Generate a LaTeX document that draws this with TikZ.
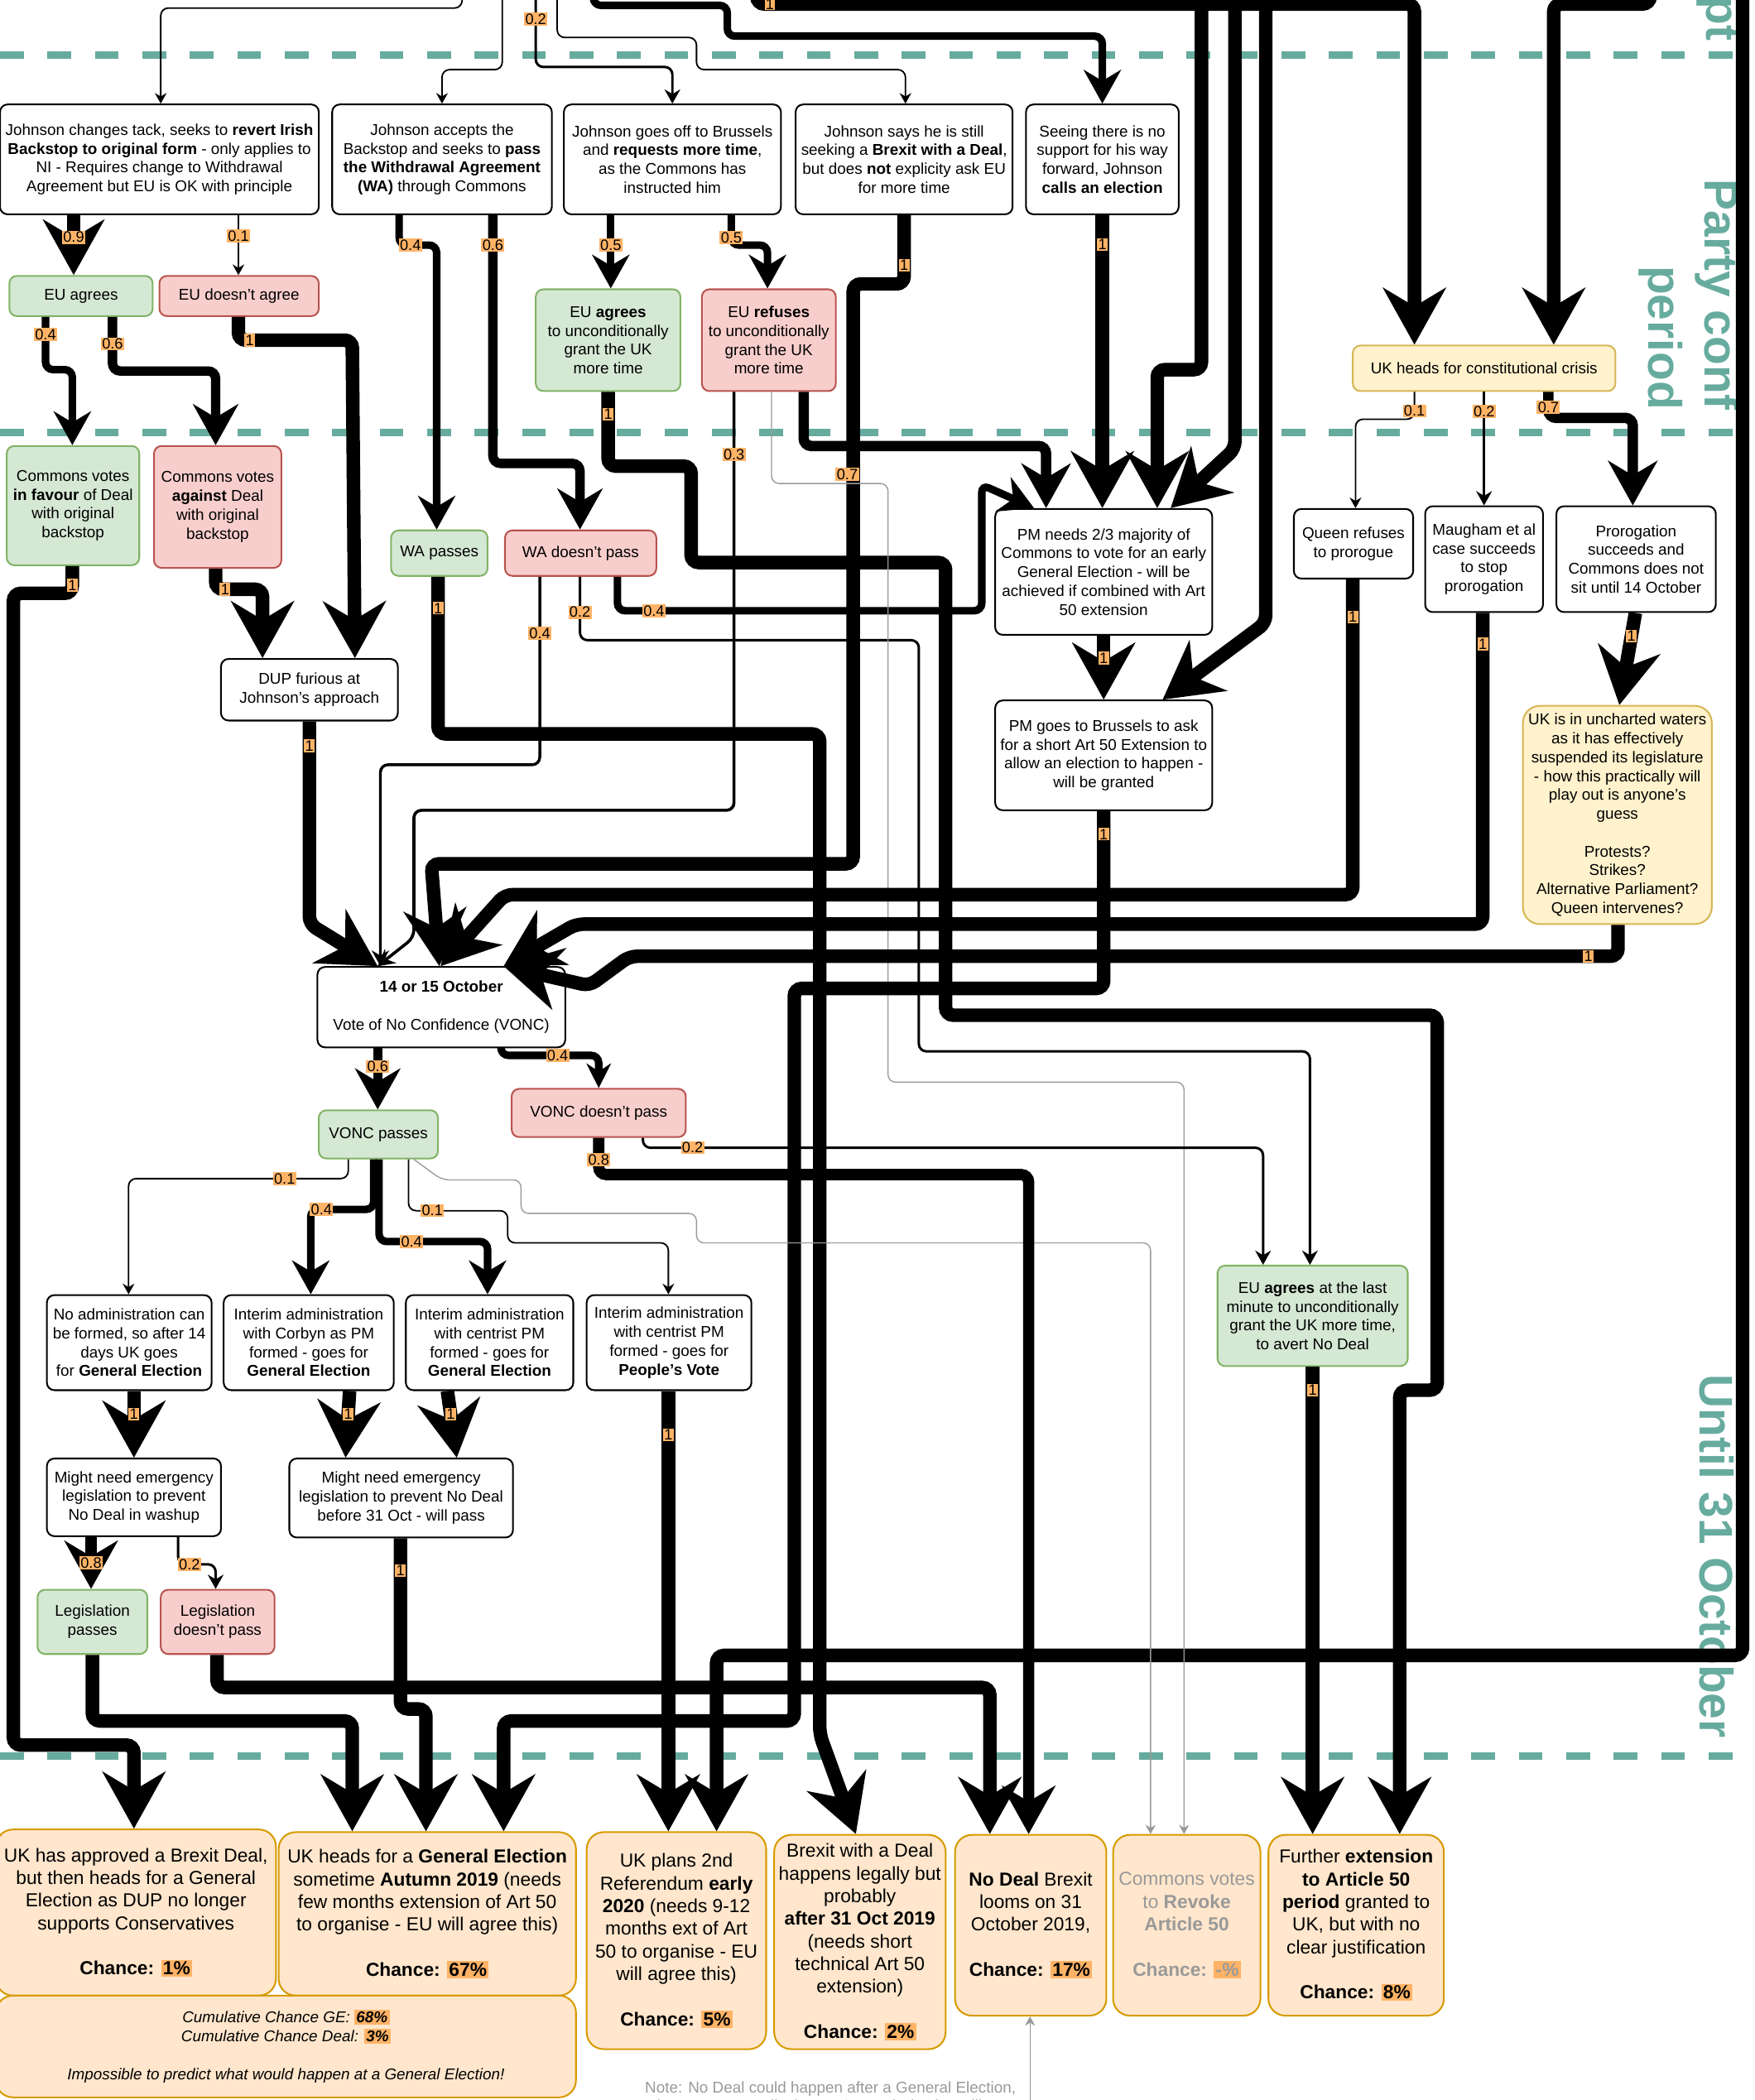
\documentclass[tikz,border=0pt]{standalone}
\usepackage{fontspec}
\setmainfont{Liberation Sans}
\setsansfont{Liberation Sans}
\usetikzlibrary{arrows.meta}

\definecolor{phaseteal}{HTML}{67AB9F}
\definecolor{yesfill}{HTML}{D5E8D4}
\definecolor{yesline}{HTML}{82B366}
\definecolor{nofill}{HTML}{F8CECC}
\definecolor{noline}{HTML}{B85450}
\definecolor{warnfill}{HTML}{FFF2CC}
\definecolor{warnline}{HTML}{D6B656}
\definecolor{endfill}{HTML}{FFE6CC}
\definecolor{endline}{HTML}{D79B00}
\definecolor{lblorange}{HTML}{FFB366}
\definecolor{notegrey}{HTML}{999999}

\newcommand{\nodefont}{\fontsize{8.3}{10}\selectfont}
\newcommand{\outfont}{\fontsize{10}{12}\selectfont}
\newcommand{\pct}[1]{{\setlength{\fboxsep}{1pt}\colorbox{lblorange}{#1}}}

\tikzset{
  box/.style={draw, rounded corners=4pt, fill=white, align=center, inner sep=1pt, line width=0.9pt, font=\nodefont},
  yesbox/.style={box, draw=yesline, fill=yesfill},
  nobox/.style={box, draw=noline, fill=nofill},
  warnbox/.style={box, draw=warnline, fill=warnfill},
  endbox/.style={box, rounded corners=9pt, draw=endline, fill=endfill, font=\outfont},
  wh/.style 2 args={minimum width=#1*0.025cm, minimum height=#2*0.025cm},
  flow/.style={-{Stealth[scale length=0.85, scale width=1.25]}, rounded corners=4pt},
  p1/.style={flow, line width=7.2pt},
  p09/.style={flow, line width=7pt},
  p08/.style={flow, line width=6pt},
  p07/.style={flow, line width=5.5pt},
  p06/.style={flow, line width=5pt},
  p05/.style={flow, line width=4pt},
  p04/.style={flow, line width=4pt},
  p03/.style={flow, line width=1.6pt},
  p02/.style={flow, line width=1.3pt},
  p01/.style={flow, line width=0.8pt},
  greyflow/.style={flow, line width=0.6pt, draw=notegrey},
  lbl/.style={fill=lblorange, sharp corners, inner sep=0.6pt, font=\fontsize{8}{9}\selectfont},
  phaseline/.style={draw=phaseteal, line width=3.9pt, dash pattern=on 12.6pt off 12.6pt},
  phasetext/.style={text=phaseteal, font=\fontsize{25}{30}\selectfont\bfseries, rotate=-90, align=right}
}

\begin{document}
\begin{tikzpicture}[x=0.025cm, y=-0.025cm]

\useasboundingbox (0,0) rectangle (1310,1568);

\draw[phaseline] (0,41) -- (1310,41);
\draw[phaseline] (0,323) -- (1310,323);
\draw[phaseline] (0,1311) -- (1310,1311);

\node[phasetext] (conf) at (1261,220) {Party conf\\period};
\node[phasetext] (oct) at (1282,1162) {Until 31 October};
\node[phasetext] (sept) at (1282,14) {pt};

\node[box, wh={238}{82}] (tack) at (119,119) {Johnson changes tack, seeks to \textbf{revert Irish}\\ \textbf{Backstop to original form} - only applies to\\ NI - Requires change to Withdrawal\\ Agreement but EU is OK with principle};
\node[box, wh={164}{82}] (accept) at (330,119) {Johnson accepts the\\ Backstop and seeks to \textbf{pass}\\ \textbf{the Withdrawal Agreement}\\ \textbf{(WA)} through Commons};
\node[box, wh={162}{82}] (brussels) at (502,119) {Johnson goes off to Brussels\\ and \textbf{requests more time},\\ as the Commons has\\ instructed him};
\node[box, wh={162}{82}] (still) at (675,119) {Johnson says he is still\\ seeking a \textbf{Brexit with a Deal},\\ but does \textbf{not} explicity ask EU\\ for more time};
\node[box, wh={114}{82}] (calls) at (823,119) {Seeing there is no\\ support for his way\\ forward, Johnson\\ \textbf{calls an election}};

\node[yesbox, wh={107}{30}] (euyes) at (60.5,221) {EU agrees};
\node[nobox, wh={119}{30}] (euno) at (178.5,221) {EU doesn't agree};
\node[yesbox, wh={108}{76}] (euagr) at (454,254) {EU \textbf{agrees}\\ to unconditionally\\ grant the UK\\ more time};
\node[nobox, wh={100}{76}] (euref) at (574,254) {EU \textbf{refuses}\\ to unconditionally\\ grant the UK\\ more time};
\node[warnbox, wh={196}{34}] (crisis) at (1108,275) {UK heads for constitutional crisis};

\node[yesbox, wh={99}{89}] (favour) at (54.5,377.5) {Commons votes\\ \textbf{in favour} of Deal\\ with original\\ backstop};
\node[nobox, wh={95}{91}] (against) at (162.5,378.5) {Commons votes\\ \textbf{against} Deal\\ with original\\ backstop};
\node[yesbox, wh={72}{34}] (wapass) at (328,413) {WA passes};
\node[nobox, wh={113}{34}] (wafail) at (433.5,413) {WA doesn't pass};
\node[box, wh={162}{94}] (twothirds) at (824,427) {PM needs 2/3 majority of\\ Commons to vote for an early\\ General Election - will be\\ achieved if combined with Art\\ 50 extension};
\node[box, wh={89}{52}] (queen) at (1010.5,406) {Queen refuses\\ to prorogue};
\node[box, wh={88}{79}] (maugham) at (1108,417.5) {Maugham et al\\ case succeeds\\ to stop\\ prorogation};
\node[box, wh={119}{79}] (prorog) at (1221.5,417.5) {Prorogation\\ succeeds and\\ Commons does not\\ sit until 14 October};

\node[box, wh={132}{46}] (dup) at (231,515) {DUP furious at\\ Johnson's approach};
\node[box, wh={162}{82}] (shortext) at (824,564) {PM goes to Brussels to ask\\ for a short Art 50 Extension to\\ allow an election to happen -\\ will be granted};
\node[warnbox, rounded corners=9pt, wh={141}{163}] (uncharted) at (1207.5,608.5) {UK is in uncharted waters\\ as it has effectively\\ suspended its legislature\\ - how this practically will\\ play out is anyone's\\ guess\\[10pt] Protests?\\ Strikes?\\ Alternative Parliament?\\ Queen intervenes?};

\node[box, wh={185}{60}] (vonc) at (329.5,752) {\textbf{14 or 15 October}\\[10pt] Vote of No Confidence (VONC)};
\node[yesbox, wh={89}{36}] (voncyes) at (282.5,847) {VONC passes};
\node[nobox, wh={130}{36}] (voncno) at (447,831) {VONC doesn't pass};
\node[yesbox, wh={142}{75}] (eulast) at (980,982.5) {EU \textbf{agrees} at the last\\ minute to unconditionally\\ grant the UK more time,\\ to avert No Deal};

\node[box, wh={123}{71}] (noadmin) at (96.5,1002.5) {No administration can\\ be formed, so after 14\\ days UK goes\\ for \textbf{General Election}};
\node[box, wh={127}{71}] (corbyn) at (230.5,1002.5) {Interim administration\\ with Corbyn as PM\\ formed - goes for\\ \textbf{General Election}};
\node[box, wh={125}{71}] (centge) at (365.5,1002.5) {Interim administration\\ with centrist PM\\ formed - goes for\\ \textbf{General Election}};
\node[box, wh={123}{71}] (centpv) at (499.5,1002.5) {Interim administration\\ with centrist PM\\ formed - goes for\\ \textbf{People's Vote}};
\node[box, wh={130}{58}] (washup) at (100,1118) {Might need emergency\\ legislation to prevent\\ No Deal in washup};
\node[box, wh={167}{59}] (before31) at (299.5,1118.5) {Might need emergency\\ legislation to prevent No Deal\\ before 31 Oct - will pass};
\node[yesbox, wh={82}{48}] (legyes) at (69,1211) {Legislation\\ passes};
\node[nobox, wh={85}{48}] (legno) at (162.5,1211) {Legislation\\ doesn't pass};

\node[endbox, wh={209}{124}] (out1) at (101.5,1428) {UK has approved a Brexit Deal,\\ but then heads for a General\\ Election as DUP no longer\\ supports Conservatives\\[12pt] \textbf{Chance: \pct{1\%}}};
\node[endbox, wh={222}{122}] (out2) at (319,1429) {UK heads for a \textbf{General Election}\\ sometime \textbf{Autumn 2019} (needs\\ few months extension of Art 50\\ to organise - EU will agree this)\\[12pt] \textbf{Chance: \pct{67\%}}};
\node[endbox, font=\nodefont\itshape, wh={433}{76}] (cum) at (213.5,1528) {Cumulative Chance GE: \pct{\textbf{68\%}}\\ Cumulative Chance Deal: \pct{\textbf{3\%}}\\[10pt] Impossible to predict what would happen at a General Election!};
\node[endbox, wh={134}{162}] (out3) at (505,1449) {UK plans 2nd\\ Referendum \textbf{early}\\ \textbf{2020} (needs 9-12\\ months ext of Art\\ 50 to organise - EU\\ will agree this)\\[12pt] \textbf{Chance: \pct{5\%}}};
\node[endbox, wh={128}{160}] (out4) at (642,1450) {Brexit with a Deal\\ happens legally but\\ probably\\ \textbf{after 31 Oct 2019}\\ (needs short\\ technical Art 50\\ extension)\\[12pt] \textbf{Chance: \pct{2\%}}};
\node[endbox, wh={113}{135}] (out5) at (769.5,1437.5) {\textbf{No Deal} Brexit\\ looms on 31\\ October 2019,\\[12pt] \textbf{Chance: \pct{17\%}}};
\node[endbox, text=notegrey, wh={110}{135}] (out6) at (886,1437.5) {Commons votes\\ to \textbf{Revoke}\\ \textbf{Article 50}\\[12pt] \textbf{Chance: \pct{-\%}}};
\node[endbox, wh={131}{135}] (out7) at (1012.5,1437.5) {Further \textbf{extension}\\ \textbf{to Article 50}\\ \textbf{period} granted to\\ UK, but with no\\ clear justification\\[12pt] \textbf{Chance: \pct{8\%}}};
\node[font=\nodefont, text=notegrey, align=center, anchor=north] (note) at (620,1549) {Note: No Deal could happen after a General Election,\\ but I cannot predict how a General Election will go};

\coordinate (inTack) at (345,-15);
\coordinate (inAccept) at (375,-15);
\coordinate (inBrussels) at (400,-15);
\coordinate (inStill) at (416,-15);
\coordinate (inCalls) at (443,-15);
\coordinate (inCrisisA) at (565,-15);
\coordinate (inCrisisB) at (1232,-15);
\coordinate (inNeedsA) at (897,-15);
\coordinate (inNeedsB) at (922,-15);
\coordinate (inShort) at (945,-15);
\coordinate (inRef) at (1301,-15);
\coordinate (noteTail) at (769,1600);

\draw[p01] (inTack) -- (345,6) -- (120,6) -- (tack.north-|120,0);
\draw[p01] (inAccept) -- (375,52) -- (330,52) -- (accept.north-|330,0);
\draw[p02] (inBrussels) -- node[lbl,pos=0.45]{0.2} (400,50) -- (502,50) -- (brussels.north-|502,0);
\draw[p01] (inStill) -- (416,28) -- (520,28) -- (520,52) -- (676,52) -- (still.north-|676,0);
\draw[p05] (inCalls) -- (443,4) -- (543,4) -- (543,27) -- (823,27) -- (calls.north);
\draw[p1] (inCrisisA) -- (565,3) -- node[lbl,pos=0.02]{1} (1056,3) -- (crisis.north-|1056,0);
\draw[p1] (inCrisisB) -- (1232,3) -- (1160,3) -- (crisis.north-|1160,0);
\draw[p1] (inNeedsA) -- (897,276) -- (864,276) -- (twothirds.north-|864,0);
\draw[p1] (inNeedsB) -- (922,335) -- (twothirds.north-|874,0);
\draw[p1] (inShort) -- (945,465) -- (shortext.north-|868,0);
\draw[p1] (inRef) -- (1301,1236) -- (535,1236) -- (out3.north-|535,0);

\draw[p09] (tack.south-|55,0) -- node[lbl,pos=0.37]{0.9} (euyes.north-|55,0);
\draw[p01] (tack.south-|178,0) -- node[lbl,pos=0.35]{0.1} (euno.north-|178,0);
\draw[p04] (accept.south-|298,0) -- (298,183) -- node[lbl,pos=0.3]{0.4} (326,183) -- (wapass.north-|326,0);
\draw[p06] (accept.south-|368,0) -- node[lbl,pos=0.12]{0.6} (368,346) -- (433,346) -- (wafail.north-|433,0);
\draw[p05] (brussels.south-|456,0) -- node[lbl,pos=0.41]{0.5} (euagr.north-|456,0);
\draw[p05] (brussels.south-|546,0) -- node[lbl,pos=0.75]{0.5} (546,183) -- (573,183) -- (euref.north-|573,0);
\draw[p1] (still.south-|675,0) -- node[lbl,pos=0.73]{1} (675,212) -- (637,212) -- (637,645) -- (322,645) -- (vonc.north-|328,0);
\draw[p1] (calls.south) -- node[lbl,pos=0.1]{1} (twothirds.north-|823,0);

\draw[p04] (euyes.south-|34,0) -- node[lbl,pos=0.33]{0.4} (34,276) -- (54,276) -- (favour.north-|54,0);
\draw[p06] (euyes.south-|84,0) -- node[lbl,pos=0.5]{0.6} (84,277) -- (161,277) -- (against.north-|161,0);
\draw[p1] (euno.south-|178,0) -- (178,254) -- node[lbl,pos=0.1]{1} (263,254) -- (dup.north-|265,0);
\draw[p1] (favour.south-|54,0) -- node[lbl,pos=0.7]{1} (54,443) -- (10,443) -- (10,1303) -- (100,1303) -- (out1.north-|100,0);
\draw[p1] (against.south-|161,0) -- (161,440) -- node[lbl,pos=0.2]{1} (196,440) -- (dup.north-|196,0);
\draw[p1] (dup.south-|231,0) -- node[lbl,pos=0.12]{1} (231,690) -- (vonc.north-|282,0);

\draw[p1] (wapass.south-|327,0) -- node[lbl,pos=0.2]{1} (327,548) -- (612,548) -- (612,1295) -- (out4.north-|639,0);
\draw[p04, line width=1.5pt] (wafail.south-|403,0) -- node[lbl,pos=0.3]{0.4} (403,571) -- (284,571) -- (vonc.north-|284,0);
\draw[p02] (wafail.south-|433,0) -- node[lbl,pos=0.56]{0.2} (433,478) -- (686,478) -- (686,785) -- (978,785) -- (eulast.north-|978,0);
\draw[p04] (wafail.south-|461,0) -- (461,456) -- node[lbl,pos=0.1]{0.4} (733,456) -- (733,362) -- (twothirds.north-|772,0);

\draw[p1] (euagr.south-|454,0) -- node[lbl,pos=0.3]{1} (454,348) -- (516,348) -- (516,420) -- (706,420) -- (706,758) -- (1073,758) -- (1073,1038) -- (1045,1038) -- (out7.north-|1045,0);
\draw[p03] (euref.south-|548,0) -- node[lbl,pos=0.15]{0.3} (548,605) -- (309,605) -- (309,700) -- (vonc.north-|282,0);
\draw[greyflow] (euref.south-|576,0) -- (576,361) -- (663,361) -- (663,808) -- (884,808) -- (out6.north-|884,0);
\draw[p07] (euref.south-|600,0) -- (600,333) -- node[lbl,pos=0.18,yshift=-15pt]{0.7} (781,333) -- (twothirds.north-|781,0);

\draw[p1] (twothirds.south) -- node[lbl,pos=0.35]{1} (shortext.north);
\draw[p1] (shortext.south) -- node[lbl,pos=0.13]{1} (824,738) -- (593,738) -- (593,1285) -- (376,1285) -- (out2.north-|376,0);

\draw[p01] (crisis.south-|1056,0) -- node[lbl,pos=0.7]{0.1} (1056,313) -- (1012,313) -- (queen.north-|1012,0);
\draw[p02] (crisis.south-|1108,0) -- node[lbl,pos=0.17]{0.2} (maugham.north-|1108,0);
\draw[p07] (crisis.south-|1156,0) -- node[lbl,pos=0.6]{0.7} (1156,312) -- (1219,312) -- (prorog.north-|1219,0);
\draw[p1] (queen.south-|1010,0) -- node[lbl,pos=0.12]{1} (1010,668) -- (377,668) -- (vonc.north-|329,0);
\draw[p1] (maugham.south-|1107,0) -- node[lbl,pos=0.1]{1} (1107,690) -- (430,690) -- (vonc.north-|376,0);
\draw[p1] (prorog.south-|1221,0) -- node[lbl,pos=0.25]{1} (uncharted.north-|1209,0);
\draw[p1] (uncharted.south-|1208,0) -- (1208,714) -- node[lbl,pos=0.03]{1} (470,714) -- (440,736) -- (vonc.north-|376,0);

\draw[p06] (vonc.south-|282,0) -- node[lbl,pos=0.3]{0.6} (voncyes.north-|282,0);
\draw[p04, -{Stealth[length=13pt, width=13pt]}] (vonc.south-|374,0) -- (374,788) -- node[lbl,pos=0.58]{0.4} (447,788) -- (voncno.north-|447,0);
\draw[p01] (voncyes.south-|260,0) -- (260,880) -- node[lbl,pos=0.29]{0.1} (96,880) -- (noadmin.north-|96,0);
\draw[p04] (voncyes.south-|279,0) -- (279,903) -- node[lbl,pos=0.83]{0.4} (232,903) -- (corbyn.north-|232,0);
\draw[p04] (voncyes.south-|283,0) -- (283,927) -- node[lbl,pos=0.3]{0.4} (364,927) -- (centge.north-|364,0);
\draw[p01] (voncyes.south-|305,0) -- (305,904) -- node[lbl,pos=0.24]{0.1} (379,904) -- (379,928) -- (499,928) -- (centpv.north-|499,0);
\draw[greyflow] (voncyes.south-|309,0) -- (330,881) -- (389,881) -- (389,906) -- (520,906) -- (520,928) -- (859,928) -- (out6.north-|859,0);
\draw[p08] (voncno.south-|447,0) -- node[lbl,pos=0.6]{0.8} (447,877) -- (768,877) -- (out5.north-|768,0);
\draw[p02] (voncno.south-|480,0) -- (480,857) -- node[lbl,pos=0.08]{0.2} (943,857) -- (eulast.north-|943,0);
\draw[p1] (eulast.south-|980,0) -- node[lbl,pos=0.05]{1} (out7.north-|980,0);

\draw[p1] (noadmin.south-|100,0) -- node[lbl,pos=0.35]{1} (washup.north-|100,0);
\draw[p1] (corbyn.south-|261,0) -- node[lbl,pos=0.35]{1} (before31.north-|258,0);
\draw[p1] (centge.south-|334,0) -- node[lbl,pos=0.35]{1} (before31.north-|341,0);
\draw[p1] (centpv.south-|499,0) -- node[lbl,pos=0.1]{1} (out3.north-|499,0);
\draw[p08] (washup.south-|68,0) -- node[lbl,pos=0.5]{0.8} (legyes.north-|68,0);
\draw[p02] (washup.south-|133,0) -- (133,1168) -- node[lbl,pos=0.3]{0.2} (161,1168) -- (legno.north-|161,0);
\draw[p1] (before31.south-|299,0) -- node[lbl,pos=0.19]{1} (299,1276) -- (318,1276) -- (out2.north-|318,0);
\draw[p1] (legyes.south-|69,0) -- (69,1285) -- (263,1285) -- (out2.north-|263,0);
\draw[p1] (legno.south-|162,0) -- (162,1260) -- (739,1260) -- (out5.north-|739,0);
\draw[greyflow] (noteTail) -- (out5.south-|769,0);
\end{tikzpicture}
\end{document}
